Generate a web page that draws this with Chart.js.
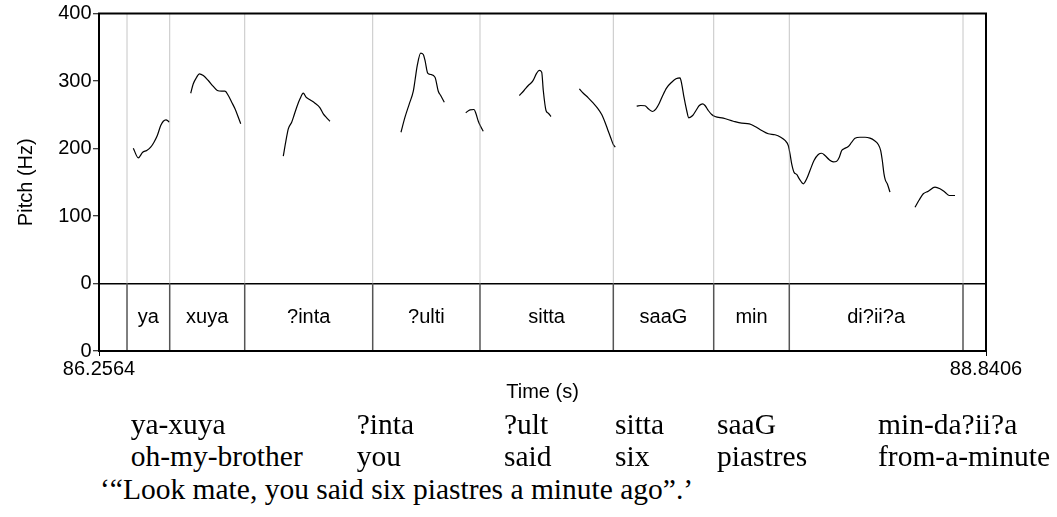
<!DOCTYPE html>
<html><head><meta charset="utf-8">
<script src="https://cdn.jsdelivr.net/npm/chart.js@4.4.1/dist/chart.umd.min.js"></script>
<style>
html,body{margin:0;padding:0;background:#fff;}
#wrap{position:relative;width:1057px;height:517px;overflow:hidden;background:#fff;}
#c{position:absolute;left:0;top:0;}
.gl{position:absolute;font-family:"Liberation Serif","Times New Roman",serif;font-size:29.5px;line-height:29.5px;color:#000;white-space:nowrap;}
</style></head><body>
<div id="wrap"><canvas id="c" width="1057" height="420"></canvas></div>
<script>
// ---- data ----
const xMin = 86.2564, xMax = 88.8406;
const xTickValues = [86.2564, 88.8406];
const xTickLabels = ['86.2564', '88.8406'];
const yTickValues = [-100, 0, 100, 200, 300, 400];
const yTickLabels = ['0', '0', '100', '200', '300', '400'];
const tierBounds = [86.3380, 86.4624, 86.6809, 87.0538, 87.3664, 87.7548, 88.0473, 88.2675, 88.7736];
const tierLabels = ['ya', 'xuya', '?inta', '?ulti', 'sitta', 'saaG', 'min', 'di?ii?a'];
// pitch contour (null = unvoiced gap)
const pitchTime = [
  86.3563,86.3709,86.3837,86.3954,86.4070,86.4166,86.4263,86.4362,86.4437,86.4516,86.4583,86.4612, 86.49,
  86.5236,86.5311,86.5410,86.5486,86.5603,86.5748,86.5894,86.6011,86.6139,86.6235,86.6331,86.6430,86.6526,86.6622,86.6692, 86.73,
  86.7933,86.8012,86.8079,86.8178,86.8245,86.8324,86.8420,86.8516,86.8595,86.8711,86.8857,86.9003,86.9099,86.9198,86.9294, 87.03,
  87.1362,87.1479,87.1604,87.1721,87.1770,87.1837,87.1936,87.2012,87.2062,87.2140,87.2228,87.2353,87.2449,87.2519,87.2624, 87.29,
  87.3248,87.3373,87.3489,87.3548,87.3615,87.3684,87.3760, 87.43,
  87.4809,87.4946,87.5071,87.5199,87.5316,87.5392,87.5462,87.5508,87.5587,87.5654,87.5733, 87.61,
  87.6557,87.6674,87.6819,87.6965,87.7082,87.7210,87.7306,87.7402,87.7472,87.7548,87.7606, 87.79,
  87.8229,87.8346,87.8471,87.8567,87.8696,87.8792,87.8888,87.8987,87.9103,87.9249,87.9374,87.9491,87.9540,87.9607,87.9686,87.9744,
  87.9861,87.9957,88.0053,88.0152,88.0219,88.0315,88.0414,88.0511,88.0752,88.1044,88.1288,88.1510,88.1676,88.1871,88.2063,88.2259,
  88.2425,88.2550,88.2646,88.2696,88.2745,88.2812,88.2891,88.2967,88.3083,88.3182,88.3278,88.3395,88.3520,88.3619,88.3715,88.3841,
  88.3957,88.4056,88.4132,88.4202,88.4269,88.4394,88.4493,88.4589,88.4735,88.4881,88.5026,88.5152,88.5268,88.5338,88.5385,88.5434,
  88.5472,88.5530,88.5609, 88.60,
  88.6337,88.6463,88.6579,88.6725,88.6920,88.7066,88.7211,88.7337,88.7503
];
const pitchHz = [
  200.4,186.2,194.5,197.0,201.9,209.3,219.3,234.0,240.4,242.5,240.4,239.0, null,
  281.9,295.9,305.6,310.7,308.1,300.7,291.9,285.9,284.9,284.9,278.5,268.6,258.8,246.4,236.6, null,
  188.6,211.9,229.2,239.0,248.9,261.2,273.6,281.9,276.0,272.1,267.1,260.3,251.4,245.5,240.4, null,
  224.1,246.4,266.2,284.9,300.7,323.0,341.2,339.3,330.4,311.6,309.6,305.6,284.9,278.5,268.6, null,
  252.9,257.3,257.8,251.4,240.4,232.6,225.6, null,
  278.5,285.9,293.3,299.7,311.6,315.6,313.0,285.9,256.3,252.3,247.4, null,
  288.4,281.9,275.1,267.1,260.3,250.4,239.0,225.6,215.9,205.9,201.9, null,
  262.7,263.7,263.3,258.8,254.8,258.8,267.1,278.5,289.9,298.2,303.3,304.7,295.9,276.0,256.3,245.5,
  248.9,256.3,263.7,266.2,263.7,256.3,250.4,247.4,244.9,240.4,237.5,236.6,232.6,226.7,221.8,220.3,
  216.7,211.9,204.4,192.1,177.3,164.9,161.5,155.1,147.7,155.1,167.4,182.2,191.1,193.0,189.6,183.3,
  180.3,181.2,187.1,197.0,199.6,203.0,209.3,215.3,216.7,216.7,215.3,211.9,205.9,197.0,182.2,162.5,
  153.6,147.7,135.3, null,
  113.0,124.0,132.9,136.7,142.7,140.3,135.3,130.4,130.4
];
// gloss text
const glossLine1 = ['ya-xuya', '?inta', '?ult', 'sitta', 'saaG', 'min-da?ii?a'];
const glossLine2 = ['oh-my-brother', 'you', 'said', 'six', 'piastres', 'from-a-minute'];
const translation = '\u2018\u201CLook mate, you said six piastres a minute ago\u201D.\u2019';

// ---- layout (not data) ----
const glossCols = [130.7, 356.7, 504, 615, 717, 878];
const glossTops = [410.3, 442.3, 475.3];
const wrap = document.getElementById('wrap');
function addText(txt, left, top) {
  const d = document.createElement('div');
  d.className = 'gl'; d.textContent = txt;
  d.style.left = left + 'px'; d.style.top = top + 'px';
  wrap.appendChild(d);
}
glossLine1.forEach((w, i) => addText(w, glossCols[i], glossTops[0]));
glossLine2.forEach((w, i) => addText(w, glossCols[i], glossTops[1]));
addText(translation, 100, glossTops[2]);

const FONT = '"Liberation Sans", Arial, sans-serif';
Chart.defaults.color = '#000';
Chart.defaults.font.family = FONT;

const datasets = [];
tierBounds.forEach(b => {
  datasets.push({data: [{x: b, y: 0}, {x: b, y: 400}], borderColor: '#8c8c8c', borderWidth: 1, borderDash: [1, 1], pointRadius: 0});
  datasets.push({data: [{x: b, y: -100}, {x: b, y: 0}], borderColor: '#555', borderWidth: 1.5, pointRadius: 0});
});
datasets.push({
  data: pitchTime.map((t, i) => ({x: t, y: pitchHz[i]})),
  borderColor: '#000', borderWidth: 1.2, pointRadius: 0, spanGaps: false,
  cubicInterpolationMode: 'monotone'
});

const tierPlugin = {
  id: 'tierText',
  afterDatasetsDraw(chart) {
    const {ctx, scales: {x, y}} = chart;
    ctx.save();
    ctx.font = '20px ' + FONT;
    ctx.fillStyle = '#000';
    ctx.textAlign = 'center';
    ctx.textBaseline = 'middle';
    const yc = y.getPixelForValue(-50);
    for (let i = 0; i < tierLabels.length; i++) {
      const cx = (x.getPixelForValue(tierBounds[i]) + x.getPixelForValue(tierBounds[i + 1])) / 2;
      ctx.fillText(tierLabels[i], cx, yc);
    }
    ctx.restore();
  },
  afterDraw(chart) {
    const {ctx, chartArea: a} = chart;
    ctx.save();
    ctx.strokeStyle = '#000';
    ctx.lineWidth = 2;
    ctx.strokeRect(a.left, a.top, a.right - a.left, a.bottom - a.top);
    ctx.restore();
  }
};

new Chart(document.getElementById('c'), {
  type: 'line',
  data: {datasets},
  plugins: [tierPlugin],
  options: {
    responsive: false,
    animation: false,
    devicePixelRatio: 1,
    layout: {padding: {left: 0, top: 13, right: 71, bottom: 0}},
    plugins: {legend: {display: false}, tooltip: {enabled: false}},
    scales: {
      x: {
        type: 'linear', min: xMin, max: xMax,
        afterBuildTicks: s => { s.ticks = xTickValues.map(v => ({value: v})); },
        afterFit: s => { s.height = 69; },
        ticks: {font: {size: 20}, padding: 1.5, maxRotation: 0, autoSkip: false,
          callback: (v, i) => xTickLabels[i]},
        grid: {color: 'rgba(0,0,0,0)', tickColor: '#000', tickLength: 5, tickWidth: 1},
        border: {display: true, color: '#000', width: 2},
        title: {display: true, text: 'Time (s)', font: {size: 20}, padding: {top: 0, bottom: 16}}
      },
      y: {
        min: -100, max: 400,
        afterBuildTicks: s => { s.ticks = yTickValues.map(v => ({value: v})); },
        afterFit: s => { s.width = 99; },
        ticks: {font: {size: 20}, padding: 1.5, callback: (v, i) => yTickLabels[i]},
        grid: {color: c => (c.tick && c.tick.value === 0) ? '#000' : 'rgba(0,0,0,0)',
          lineWidth: 1.5, tickColor: '#000', tickLength: 6, tickWidth: 1},
        border: {display: true, color: '#000', width: 2},
        title: {display: true, text: 'Pitch (Hz)', font: {size: 20}, padding: {top: 14, bottom: 0}}
      }
    }
  }
});
</script>
</body></html>
